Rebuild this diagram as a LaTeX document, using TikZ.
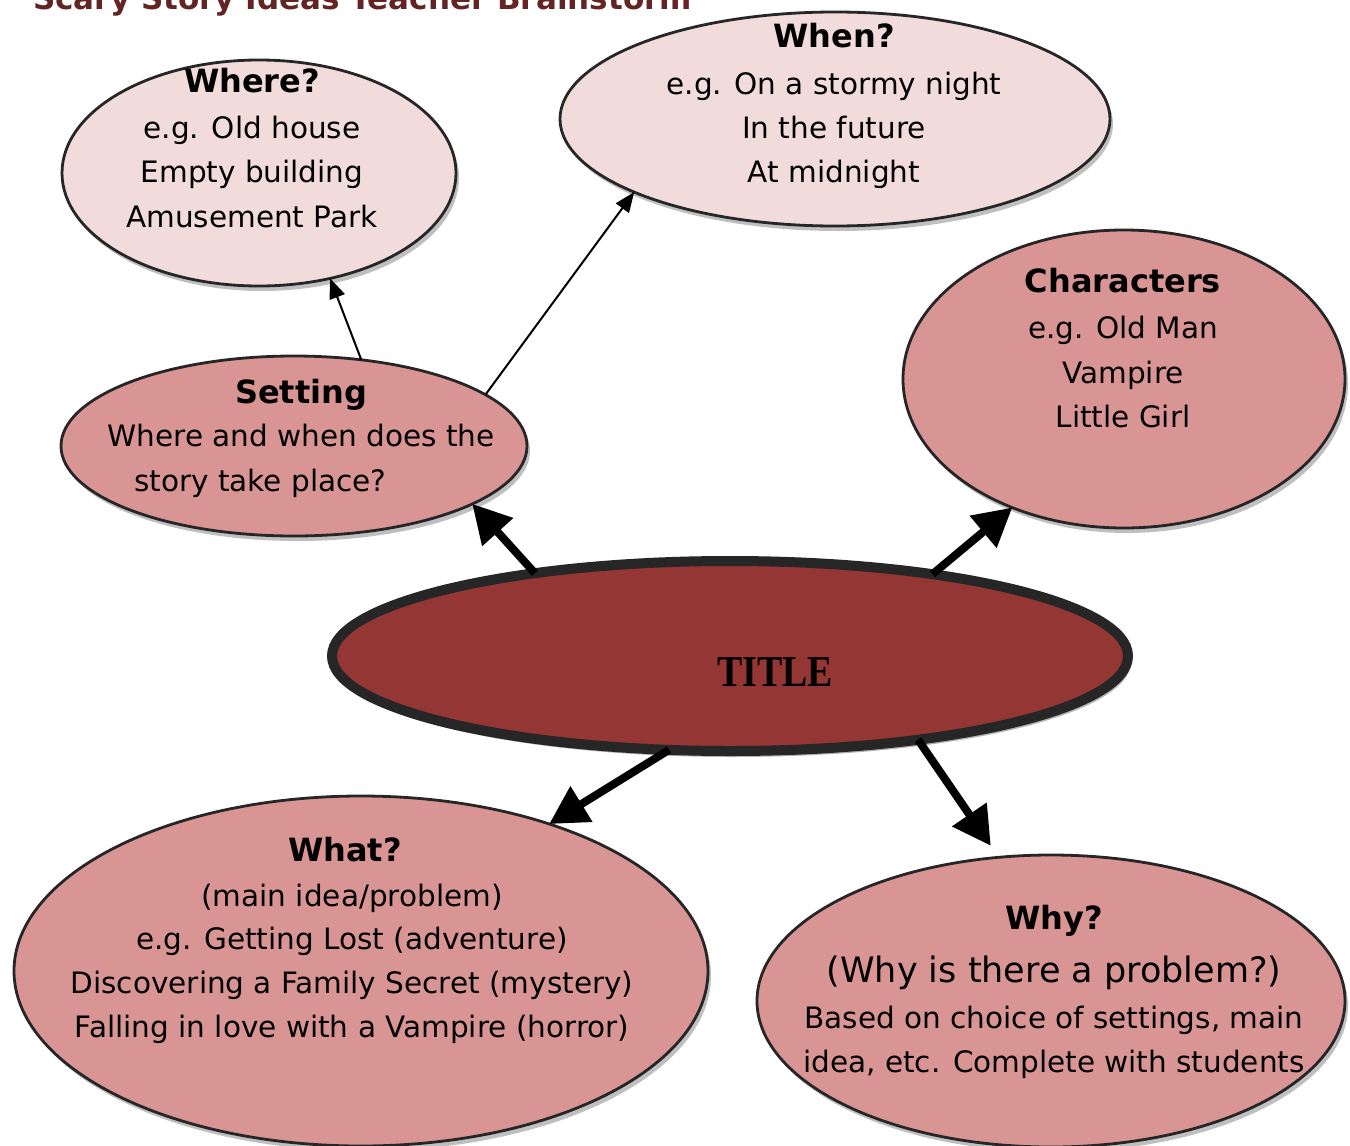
\documentclass[tikz,border=0pt]{standalone}
\usepackage{fontspec}
\setmainfont{DejaVu Sans}
\newfontfamily\titlefont{Liberation Serif}
\usetikzlibrary{shapes.geometric,arrows.meta,shadows}
\definecolor{lightpink}{HTML}{F2DCDB}
\definecolor{midpink}{HTML}{D99594}
\definecolor{titlered}{HTML}{943634}
\definecolor{outlinegray}{HTML}{262626}
\definecolor{headred}{HTML}{632523}
\begin{document}
\begin{tikzpicture}[x=1pt,y=-1pt,
  bubble/.style={ellipse, draw=outlinegray, line width=2.8pt, inner sep=0pt, outer sep=0pt,
    drop shadow={shadow xshift=3pt, shadow yshift=-5pt, opacity=0.25, fill=black}},
  light/.style={bubble, fill=lightpink},
  mid/.style={bubble, fill=midpink},
  txt/.style={anchor=base, inner sep=0pt, font=\fontsize{29.5}{36}\selectfont},
  head/.style={anchor=base, inner sep=0pt, font=\bfseries\fontsize{32}{38}\selectfont},
  thinarrow/.style={line width=2pt, -{Triangle[length=20pt,width=16pt]}},
  thickarrow/.style={line width=8pt, -{Triangle[length=38pt,width=40pt]}}
]
\clip (0,0) rectangle (1350,1146);
\fill[white] (0,0) rectangle (1350,1146);

% header (cut off at top)
\node[anchor=base west, inner sep=0pt, text=headred, font=\bfseries\fontsize{31}{33}\selectfont] (header) at (33,9) {Scary Story Ideas Teacher Brainstorm};

% ellipses
\node[light, minimum width=394pt, minimum height=226pt] (where) at (259,173) {};
\node[light, minimum width=550pt, minimum height=214pt] (when) at (835,119) {};
\node[mid, minimum width=442pt, minimum height=298pt] (chars) at (1124,379) {};
\node[mid, minimum width=466pt, minimum height=180pt] (setting) at (294,446) {};
\node[ellipse, draw=outlinegray, line width=10pt, fill=titlered, inner sep=0pt, outer sep=0pt,
      minimum width=796pt, minimum height=190pt,
      drop shadow={shadow xshift=3pt, shadow yshift=-6pt, opacity=0.3, fill=black}] (title) at (730,656) {};
\node[mid, minimum width=694pt, minimum height=350pt] (what) at (361,971) {};
\node[mid, minimum width=588pt, minimum height=292pt] (why) at (1051,1001) {};

% Where?
\node[head] (whereH) at (252,92) {Where?};
\node[txt] (whereA) at (252,138) {e.g. Old house};
\node[txt] (whereB) at (252,182) {Empty building};
\node[txt] (whereC) at (252,227) {Amusement Park};

% When?
\node[head] (whenH) at (834,47) {When?};
\node[txt] (whenA) at (834,94) {e.g. On a stormy night};
\node[txt] (whenB) at (834,138) {In the future};
\node[txt] (whenC) at (834,182) {At midnight};

% Characters
\node[head] (charsH) at (1123,292) {Characters};
\node[txt] (charsA) at (1123,338) {e.g. Old Man};
\node[txt] (charsB) at (1123,383) {Vampire};
\node[txt] (charsC) at (1123,427) {Little Girl};

% Setting
\node[head] (settingH) at (301,403) {Setting};
\node[txt] (settingA) at (301,446) {Where and when does the};
\node[txt, anchor=base west] (settingB) at (134,491) {story take place?};

% TITLE
\node[anchor=base, inner sep=0pt, font=\titlefont\bfseries\fontsize{44}{46}\selectfont] (titleT) at (775,686) {\scalebox{0.86}[1]{TITLE}};

% What?
\node[head] (whatH) at (345,861) {What?};
\node[txt] (whatA) at (352,906) {(main idea/problem)};
\node[txt] (whatB) at (352,949) {e.g. Getting Lost (adventure)};
\node[txt] (whatC) at (352,993) {Discovering a Family Secret (mystery)};
\node[txt] (whatD) at (352,1037) {Falling in love with a Vampire (horror)};

% Why?
\node[head] (whyH) at (1054,929) {Why?};
\node[txt, font=\fontsize{35}{40}\selectfont] (whyA) at (1054,982) {(Why is there a problem?)};
\node[txt] (whyB) at (1054,1028) {Based on choice of settings, main};
\node[txt] (whyC) at (1054,1072) {idea, etc. Complete with students};

% connectors
\draw[thinarrow] (setting.52) -- (where.-56);
\draw[thinarrow] (setting.15) -- (when.200);
\draw[thickarrow] (title.157) -- (setting.-18);
\draw[thickarrow] (title.22.5) -- (chars.-131.5);
\draw[thickarrow] (title.-123) -- (what.38);
\draw[thickarrow, shorten >=14pt] (title.-24) -- (why.110);
\end{tikzpicture}
\end{document}
